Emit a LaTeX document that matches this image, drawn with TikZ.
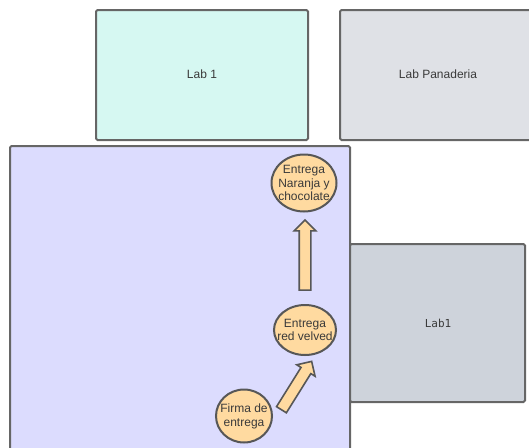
\documentclass[tikz,border=0pt]{standalone}
\usepackage{fontspec}
\setmainfont{Liberation Sans}
\newfontfamily\labmono{DejaVu Sans Mono}
\usetikzlibrary{shapes.geometric,shapes.arrows}

\definecolor{menta}{HTML}{D6F8F2}
\definecolor{grisclaro}{HTML}{DFE1E6}
\definecolor{lavanda}{HTML}{DCDCFE}
\definecolor{grisazul}{HTML}{CED3DB}
\definecolor{durazno}{HTML}{FFDAA0}
\definecolor{borde}{HTML}{666666}
\definecolor{tinta}{HTML}{3A3A3A}

\tikzset{
  sala/.style={draw=borde, line width=2pt, rounded corners=1.5pt},
  rotulo/.style={text=tinta, font=\fontsize{12}{14}\selectfont},
  paso/.style={ellipse, draw=borde!85!black, line width=2pt, fill=durazno, inner sep=0pt},
  textopaso/.style={align=center, text=tinta, font=\fontsize{12}{13.5}\selectfont},
  flecha/.style={single arrow, draw=borde!85!black, line width=1.6pt, fill=durazno,
    inner xsep=0pt, inner ysep=5pt, single arrow head extend=5pt},
}

\begin{document}
\begin{tikzpicture}[x=1pt,y=-1pt]
    \useasboundingbox (0,0) rectangle (529,447);
    \clip (0,0) rectangle (529,447);

    % Salas
    \draw[sala, fill=menta] (96,10) rectangle (308,140);
    \draw[sala, fill=grisclaro] (340,10) rectangle (536,140);
    \draw[sala, fill=lavanda] (10,146) rectangle (350,470);
    \draw[sala, fill=grisazul] (350,244) rectangle (525,402);

    \node[rotulo] (lab1) at (202,74) {Lab 1};
    \node[rotulo] (panaderia) at (438,74) {Lab Panaderia};
    \node[rotulo, font=\labmono\fontsize{11}{13}\selectfont] (lab1b) at (438,323) {Lab1};

    % Entregas
    \node[paso, minimum width=65, minimum height=57,
      label={[textopaso]center:Entrega\\Naranja y\\chocolate}] (naranja) at (304,183) {};
    \node[paso, minimum width=62, minimum height=50,
      label={[textopaso]center:Entrega\\red velved}] (redvelved) at (305,330) {};
    \node[paso, minimum width=56, minimum height=53,
      label={[textopaso, font=\fontsize{12}{14}\selectfont]center:Firma de\\entrega}] (firma) at (244,416) {};

    % Flechas
    \node[flecha, minimum height=70, rotate=90] (subida) at (305,258) {};
    \node[flecha, minimum height=57, rotate=58] (diagonal) at (295,388) {};
\end{tikzpicture}
\end{document}
